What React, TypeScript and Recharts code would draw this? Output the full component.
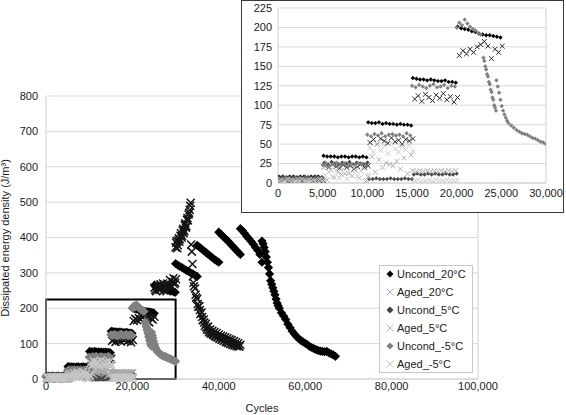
import React from 'react';
import { ScatterChart, Scatter, XAxis, YAxis, CartesianGrid, ReferenceArea, ReferenceLine } from 'recharts';

type Seg = { x0: number; dx: number; ys: number[] };

const SERIES_NAMES = ['Uncond_20°C', 'Aged_20°C', 'Uncond_5°C', 'Aged_5°C', 'Uncond_-5°C', 'Aged_-5°C'];

const MAIN_X_TICKS = [0, 20000, 40000, 60000, 80000, 100000];
const MAIN_Y_TICKS = [0, 100, 200, 300, 400, 500, 600, 700, 800];
const INSET_X_TICKS = [0, 5000, 10000, 15000, 20000, 25000, 30000];
const INSET_Y_TICKS = [0, 25, 50, 75, 100, 125, 150, 175, 200, 225];

// Uncond_20°C
const U20_SEGS: Seg[] = [
  { x0: 100, dx: 400, ys: [8, 8, 7, 8, 8, 7, 8, 8, 7, 8, 8, 8, 7] },
  { x0: 5100, dx: 400, ys: [35, 34, 34, 34, 33, 34, 34, 33, 34, 34, 33, 34, 33] },
  { x0: 10100, dx: 400, ys: [78, 77, 77, 78, 76, 77, 76, 76, 75, 76, 75, 75, 74] },
  { x0: 15100, dx: 400, ys: [135, 134, 133, 133, 132, 133, 132, 131, 131, 132, 130, 130, 129] },
  { x0: 20100, dx: 400, ys: [201, 199, 198, 197, 195, 194, 192, 191, 190, 190, 189, 188, 187] },
  { x0: 25100, dx: 400, ys: [265, 262, 260, 262, 258, 257, 255, 254, 252, 250, 249, 247, 245] },
  { x0: 30000, dx: 500, ys: [326, 322, 318, 315, 311, 307, 304, 300, 297, 293, 290] },
  { x0: 35000, dx: 500, ys: [378, 373, 368, 363, 358, 353, 348, 343, 338, 334, 330] },
  { x0: 40000, dx: 500, ys: [415, 409, 403, 397, 391, 385, 378, 371, 365, 358, 352] },
  { x0: 45000, dx: 500, ys: [425, 419, 411, 403, 396, 389, 381, 372, 364, 352, 330] },
  { x0: 50000, dx: 250, ys: [390, 382, 372, 360, 345, 330, 315, 297, 278, 268, 258, 248, 238, 226, 215, 207, 200] },
  { x0: 54500, dx: 500, ys: [187, 178, 168, 155, 145, 135, 127, 120, 114, 109, 105, 101, 97, 92, 89, 86, 83, 81, 79, 78, 77, 78, 74, 71, 68, 64] },
];

// Aged_20°C
const A20_SEGS: Seg[] = [
  { x0: 300, dx: 400, ys: [3, 4, 2, 3, 4, 3, 2, 3, 4, 3, 2, 3, 3] },
  { x0: 5300, dx: 400, ys: [22, 20, 24, 21, 19, 23, 20, 22, 18, 21, 24, 20, 22] },
  { x0: 10300, dx: 400, ys: [52, 56, 50, 57, 54, 51, 58, 53, 55, 50, 56, 54, 57] },
  { x0: 15300, dx: 400, ys: [108, 112, 105, 114, 110, 106, 113, 109, 115, 107, 111, 104, 110] },
  { x0: 20300, dx: 400, ys: [164, 170, 166, 172, 168, 175, 178, 182, 176, 160, 172, 168, 176] },
  { x0: 25300, dx: 400, ys: [252, 262, 255, 268, 258, 250, 262, 270, 258, 265, 275, 268, 282] },
  { x0: 25100, dx: 400, ys: [258, 248, 266, 252, 262, 270, 255, 248, 265, 280, 260, 285, 272] },
  { x0: 30000, dx: 250, ys: [372, 390, 378, 398, 395, 412, 405, 425, 418, 440, 432, 455, 465, 478, 498] },
  { x0: 30125, dx: 250, ys: [385, 370, 392, 388, 405, 400, 420, 412, 435, 428, 450, 448, 470, 490] },
  { x0: 33600, dx: 150, ys: [380, 360, 325] },
  { x0: 34000, dx: 250, ys: [290, 262, 256, 230, 226, 204, 206, 184, 188, 166, 168, 150, 156, 140, 148, 132, 140, 128, 136, 124, 133, 120, 130, 118, 126, 115, 122, 112, 120, 109, 118, 105, 115, 104, 112, 101, 110, 98, 107, 96, 104, 94, 101, 92, 97] },
  { x0: 34125, dx: 500, ys: [272, 238, 212, 195, 175, 160, 146, 138, 131, 127, 122, 118, 114, 111, 108, 105, 102, 99, 97, 95, 93, 92] },
];

// Uncond_5°C
const U5_SEGS: Seg[] = [
  { x0: 200, dx: 400, ys: [7, 8, 7, 7, 8, 7, 7, 8, 7, 7, 8, 7, 7] },
  { x0: 5200, dx: 400, ys: [26, 24, 27, 25, 24, 26, 25, 27, 24, 26, 25, 24, 26] },
  { x0: 10200, dx: 400, ys: [5, 5, 6, 5, 5, 5, 6, 5, 5, 5, 6, 5, 5] },
  { x0: 15200, dx: 400, ys: [11, 12, 11, 11, 12, 11, 12, 11, 11, 12, 11, 11, 12] },
];

// Aged_5°C
const A5_SEGS: Seg[] = [
  { x0: 100, dx: 400, ys: [2, 3, 1, 2, 3, 2, 1, 2, 3, 2, 2, 1, 2] },
  { x0: 5100, dx: 400, ys: [20, 4, 17, 7, 14, 11, 12, 13, 9, 16, 6, 19, 3] },
  { x0: 10100, dx: 400, ys: [8, 34, 14, 30, 20, 26, 24, 22, 28, 18, 32, 12, 36] },
  { x0: 15100, dx: 400, ys: [16, 15, 16, 15, 16, 15, 16, 15, 16, 15, 16, 15, 16] },
];

// Uncond_-5°C
const UM5_SEGS: Seg[] = [
  { x0: 0, dx: 400, ys: [6, 5, 6, 6, 5, 6, 6, 5, 6, 6, 5, 6, 6] },
  { x0: 5000, dx: 400, ys: [23, 25, 22, 24, 26, 23, 25, 22, 24, 23, 25, 24, 22] },
  { x0: 10000, dx: 400, ys: [62, 60, 63, 61, 64, 60, 62, 63, 61, 62, 60, 64, 61] },
  { x0: 15000, dx: 400, ys: [125, 123, 126, 124, 122, 125, 127, 123, 124, 126, 122, 125, 124] },
  { x0: 20000, dx: 300, ys: [200, 206, 203, 210, 205, 201, 198, 196, 193, 191] },
  { x0: 23000, dx: 100, ys: [161, 157, 150, 146, 140, 137, 130, 127, 120, 117, 110, 107, 100, 97, 93] },
  { x0: 24450, dx: 150, ys: [132, 124, 116, 107, 99, 93, 88, 84, 80, 77] },
  { x0: 26100, dx: 300, ys: [74, 71, 68, 66, 64, 63, 62, 60, 58, 57, 55, 53, 52, 50] },
];

// Aged_-5°C
const AM5_SEGS: Seg[] = [
  { x0: 300, dx: 400, ys: [4, 3, 5, 4, 3, 4, 5, 3, 4, 4, 3, 5, 4] },
  { x0: 5300, dx: 400, ys: [10, 14, 8, 16, 6, 18, 5, 12, 20, 9, 15, 3, 11] },
  { x0: 10300, dx: 400, ys: [45, 40, 50, 42, 48, 38, 52, 44, 40, 47, 43, 49, 41] },
  { x0: 15300, dx: 400, ys: [3, 4, 3, 3, 4, 3, 4, 3, 3, 4, 3, 3, 4] },
];

const toPoints = (segs: Seg[]) =>
  segs.flatMap((s) => s.ys.map((y, i) => ({ x: s.x0 + i * s.dx, y })));

const SERIES = [
  { name: SERIES_NAMES[0], data: toPoints(U20_SEGS), kind: 'd', color: '#000000', legend: '#000000' },
  { name: SERIES_NAMES[1], data: toPoints(A20_SEGS), kind: 'x', color: '#141414', legend: '#b0b0b0' },
  { name: SERIES_NAMES[2], data: toPoints(U5_SEGS), kind: 'd', color: '#4a4a4a', legend: '#404040' },
  { name: SERIES_NAMES[3], data: toPoints(A5_SEGS), kind: 'x', color: '#a8a8a8', legend: '#b8b8b8' },
  { name: SERIES_NAMES[4], data: toPoints(UM5_SEGS), kind: 'd', color: '#808080', legend: '#808080' },
  { name: SERIES_NAMES[5], data: toPoints(AM5_SEGS), kind: 'x', color: '#c6c6c6', legend: '#c8c8c8' },
];

const FONT = '"Liberation Sans", Arial, sans-serif';

const makeShape = (kind: string, color: string, r: number, w: number) => (props: any) => {
  const { cx, cy } = props;
  if (cx == null || cy == null || isNaN(cx) || isNaN(cy)) return <g />;
  if (kind === 'd') {
    return <path d={`M${cx},${cy - r}L${cx + r},${cy}L${cx},${cy + r}L${cx - r},${cy}Z`} fill={color} />;
  }
  return (
    <path
      d={`M${cx - r},${cy - r}L${cx + r},${cy + r}M${cx - r},${cy + r}L${cx + r},${cy - r}`}
      stroke={color}
      strokeWidth={w}
      fill="none"
    />
  );
};

const fmt = (v: number) => v.toLocaleString('en-US');
const tickStyle = { fill: '#1a1a1a', fontSize: 11, fontFamily: FONT };

const MainChart = () => (
  <ScatterChart width={566} height={415} margin={{ top: 96, right: 88, bottom: 0, left: 0 }}>
    <CartesianGrid horizontal vertical={false} stroke="#d9d9d9" />
    <XAxis
      type="number"
      dataKey="x"
      domain={[0, 100000]}
      ticks={MAIN_X_TICKS}
      tickFormatter={fmt}
      height={36}
      tickLine={false}
      tickSize={0}
      tickMargin={3}
      axisLine={{ stroke: '#d0d0d0' }}
      tick={tickStyle}
      label={{
        content: () => (
          <text x={262} y={412} textAnchor="middle" fontSize={11} fontFamily={FONT} fill="#1a1a1a">
            Cycles
          </text>
        ),
      }}
    />
    <YAxis
      type="number"
      dataKey="y"
      domain={[0, 800]}
      ticks={MAIN_Y_TICKS}
      width={46}
      tickLine={false}
      tickSize={0}
      tickMargin={8}
      axisLine={{ stroke: '#d0d0d0' }}
      tick={tickStyle}
      label={{
        content: () => (
          <text
            x={9}
            y={238}
            transform="rotate(-90 9 238)"
            textAnchor="middle"
            fontSize={11}
            fontFamily={FONT}
            fill="#1a1a1a"
          >
            Dissipated energy density (J/m³)
          </text>
        ),
      }}
    />
    <ReferenceLine x={100000} stroke="#d0d0d0" />
    {SERIES.map((s) => (
      <Scatter
        key={s.name}
        name={s.name}
        data={s.data}
        isAnimationActive={false}
        shape={makeShape(s.kind, s.color, s.kind === 'd' ? 4.6 : 4, 1.5)}
      />
    ))}
    <ReferenceArea x1={0} x2={30000} y1={0} y2={225} fill="none" fillOpacity={0} stroke="#000" strokeWidth={2} />
  </ScatterChart>
);

const InsetChart = () => (
  <ScatterChart width={321} height={211} margin={{ top: 7, right: 17, bottom: 0, left: 0 }}>
    <CartesianGrid horizontal vertical={false} stroke="#d9d9d9" />
    <XAxis
      type="number"
      dataKey="x"
      domain={[0, 30000]}
      ticks={INSET_X_TICKS}
      tickFormatter={fmt}
      height={29}
      tickLine={false}
      tickSize={0}
      tickMargin={6}
      axisLine={{ stroke: '#d0d0d0' }}
      tick={tickStyle}
      allowDataOverflow
      interval={0}
    />
    <YAxis
      type="number"
      dataKey="y"
      domain={[0, 225]}
      ticks={INSET_Y_TICKS}
      width={36}
      tickLine={false}
      tickSize={0}
      tickMargin={6}
      axisLine={{ stroke: '#d0d0d0' }}
      tick={tickStyle}
      allowDataOverflow
      interval={0}
    />
    <ReferenceLine x={30000} stroke="#d0d0d0" />
    {SERIES.map((s) => (
      <Scatter
        key={s.name}
        name={s.name}
        data={s.data.filter((p) => p.x <= 30000 && p.y <= 225)}
        isAnimationActive={false}
        shape={makeShape(s.kind, s.color, s.kind === 'd' ? 2.2 : 2.4, 0.9)}
      />
    ))}
  </ScatterChart>
);

const LegendBox = () => (
  <div
    style={{
      position: 'absolute',
      left: 379,
      top: 265,
      width: 94,
      height: 108,
      border: '1px solid #c8c8c8',
      background: '#fff',
      boxSizing: 'border-box',
      fontFamily: FONT,
      fontSize: 11,
      color: '#1a1a1a',
    }}
  >
    {SERIES.map((s, i) => (
      <div key={s.name} style={{ position: 'absolute', left: 0, top: i * 18 - 1, height: 18, width: 94 }}>
        <svg width={16} height={18} style={{ position: 'absolute', left: 2, top: 0 }}>
          {s.kind === 'd' ? (
            <path d="M8,5.5L11.5,9L8,12.5L4.5,9Z" fill={s.legend} />
          ) : (
            <path d="M4.5,5.5L11.5,12.5M4.5,12.5L11.5,5.5" stroke={s.legend} strokeWidth={1} fill="none" />
          )}
        </svg>
        <span style={{ position: 'absolute', left: 17, top: 2, lineHeight: '14px', whiteSpace: 'nowrap' }}>{s.name}</span>
      </div>
    ))}
  </div>
);

export default function App() {
  return (
    <div style={{ position: 'absolute', left: 0, top: 0, width: 566, height: 415, background: '#fff' }}>
      <div style={{ position: 'absolute', left: 0, top: 0 }}>
        <MainChart />
      </div>
      <LegendBox />
      <div
        style={{
          position: 'absolute',
          left: 242,
          top: 1,
          width: 321,
          height: 211,
          background: '#fff',
        }}
      >
        <InsetChart />
      </div>
      <div
        style={{
          position: 'absolute',
          left: 241,
          top: 0,
          width: 323,
          height: 213,
          border: '1.5px solid #3a3a3a',
          boxSizing: 'border-box',
          pointerEvents: 'none',
        }}
      />
    </div>
  );
}
